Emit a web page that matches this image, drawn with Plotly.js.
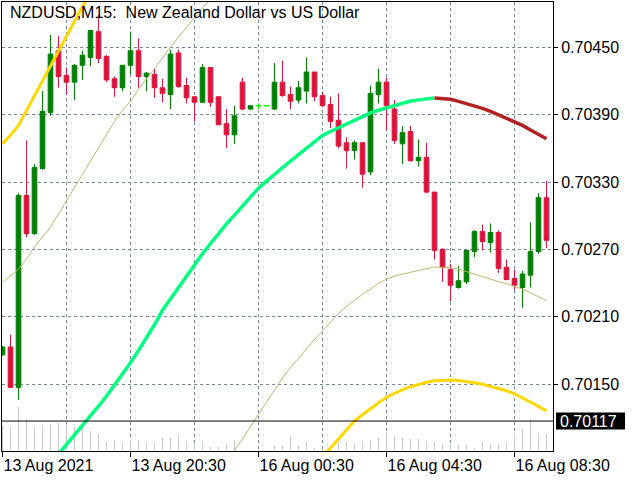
<!DOCTYPE html>
<html><head><meta charset="utf-8">
<script src="https://cdn.plot.ly/plotly-3.0.1.min.js"></script>
<style>html,body{margin:0;padding:0;background:#fff;}#chart{width:640px;height:480px;}</style>
</head><body><div id="chart"></div>
<script>
// ---- data: NZDUSD M15, one value per bar ----
const openP = [0.70176,0.70183,0.70147,0.70318,0.70284,0.70342,0.70392,0.70447,0.70425,0.70419,
 0.70434,0.70441,0.70464,0.70442,0.70422,0.70414,0.70434,0.70447,0.70424,0.70426,
 0.70414,0.70408,0.70445,0.70416,0.70406,0.70401,0.70432,0.70406,0.70382,0.70372,
 0.70419,0.70395,0.70398,0.70398,0.70395,0.70419,0.70408,0.70403,0.70411,0.70428,
 0.70407,0.70399,0.70385,0.70365,0.70358,0.70365,0.70339,0.70408,0.70419,0.70395,
 0.70364,0.70375,0.70349,0.70352,0.70321,0.70270,0.70252,0.70236,0.70241,0.70268,
 0.70286,0.70276,0.70285,0.70254,0.70244,0.70236,0.70247,0.70268,0.70316];
const highP = [0.70184,0.70194,0.70320,0.70367,0.70346,0.70411,0.70461,0.70460,0.70432,0.70435,
 0.70447,0.70465,0.70479,0.70443,0.70424,0.70434,0.70464,0.70458,0.70428,0.70431,
 0.70422,0.70448,0.70448,0.70423,0.70406,0.70435,0.70432,0.70406,0.70395,0.70398,
 0.70423,0.70398,0.70400,0.70398,0.70436,0.70438,0.70415,0.70420,0.70441,0.70428,
 0.70410,0.70406,0.70409,0.70370,0.70367,0.70365,0.70416,0.70431,0.70423,0.70403,
 0.70380,0.70380,0.70368,0.70365,0.70321,0.70271,0.70257,0.70255,0.70269,0.70287,
 0.70292,0.70293,0.70287,0.70261,0.70252,0.70251,0.70294,0.70320,0.70331];
const lowP = [0.70175,0.70147,0.70136,0.70281,0.70283,0.70341,0.70389,0.70414,0.70408,0.70403,
 0.70421,0.70433,0.70436,0.70419,0.70406,0.70411,0.70426,0.70414,0.70411,0.70405,
 0.70401,0.70395,0.70414,0.70400,0.70384,0.70401,0.70397,0.70381,0.70360,0.70364,
 0.70394,0.70394,0.70395,0.70397,0.70394,0.70406,0.70395,0.70400,0.70400,0.70402,
 0.70397,0.70378,0.70360,0.70342,0.70350,0.70325,0.70336,0.70400,0.70376,0.70364,
 0.70346,0.70348,0.70344,0.70320,0.70261,0.70241,0.70224,0.70235,0.70239,0.70263,
 0.70269,0.70267,0.70249,0.70243,0.70234,0.70218,0.70236,0.70266,0.70271];
const closeP = [0.70183,0.70147,0.70318,0.70284,0.70343,0.70393,0.70444,0.70424,0.70419,0.70434,
 0.70443,0.70465,0.70440,0.70421,0.70414,0.70434,0.70447,0.70424,0.70427,0.70414,
 0.70409,0.70444,0.70415,0.70405,0.70401,0.70432,0.70401,0.70381,0.70372,0.70389,
 0.70395,0.70398,0.70398,0.70398,0.70419,0.70407,0.70402,0.70414,0.70428,0.70406,
 0.70398,0.70384,0.70362,0.70358,0.70365,0.70337,0.70409,0.70419,0.70398,0.70367,
 0.70374,0.70349,0.70352,0.70321,0.70269,0.70254,0.70238,0.70242,0.70269,0.70286,
 0.70277,0.70285,0.70253,0.70243,0.70238,0.70248,0.70268,0.70316,0.70278];
const tickVolume = [250,240,440,320,240,260,270,280,270,240,
 230,200,170,90,110,80,110,110,80,80,
 130,130,160,100,80,100,40,40,70,100,
 10,10,10,10,50,50,150,50,90,30,
 20,20,90,90,70,100,110,130,190,150,
 130,120,120,100,90,70,70,60,60,30,
 90,70,70,80,180,220,320,180,170];
// indicator lines (null = no value drawn)
const maRising = [null,null,null,null,null,null,null,0.700876,0.700960,0.701042,
 0.701126,0.701213,0.701302,0.701392,0.701488,0.701588,0.701689,0.701800,0.701911,0.702028,
 0.702158,0.702261,0.702364,0.702467,0.702568,0.702661,0.702751,0.702842,0.702927,0.703005,
 0.703084,0.703163,0.703245,0.703308,0.703371,0.703430,0.703487,0.703544,0.703602,0.703659,
 0.703715,0.703750,0.703783,0.703816,0.703849,0.703881,0.703916,0.703939,0.703961,0.703983,
 0.704006,0.704022,0.704032,0.704041,0.704049,null,null,null,null,null,
 null,null,null,null,null,null,null,null,null];
const maFalling = [null,null,null,null,null,null,null,null,null,null,
 null,null,null,null,null,null,null,null,null,null,
 null,null,null,null,null,null,null,null,null,null,
 null,null,null,null,null,null,null,null,null,null,
 null,null,null,null,null,null,null,null,null,null,
 null,null,null,null,0.704049,0.704046,0.704037,0.704019,0.703999,0.703981,
 0.703956,0.703930,0.703898,0.703867,0.703840,0.703804,0.703764,0.703724,0.703685];
const goldLine = [0.703642,0.703716,0.703804,0.703937,0.704069,0.704202,0.704334,0.704467,0.704599,0.704731,
 0.704864,0.704995,null,null,null,null,null,null,null,null,
 null,null,null,null,null,null,null,null,null,null,
 null,null,null,null,null,null,null,null,null,null,
 0.700849,0.700931,0.701012,0.701094,0.701171,0.701226,0.701281,0.701333,0.701382,0.701418,
 0.701449,0.701476,0.701498,0.701516,0.701528,0.701534,0.701536,0.701531,0.701523,0.701512,
 0.701498,0.701480,0.701462,0.701440,0.701413,0.701377,0.701342,0.701301,0.701261];
const khakiLine = [0.702403,0.702461,0.702524,0.702613,0.702721,0.702810,0.702900,0.703016,0.703133,0.703249,
 0.703374,0.703491,0.703598,0.703715,0.703840,0.703939,0.704019,0.704127,0.704216,0.704315,
 0.704404,0.704503,0.704592,0.704682,0.704771,0.704852,0.704924,null,0.700795,0.700903,
 0.701010,0.701118,0.701225,0.701333,0.701445,0.701556,0.701646,0.701731,0.701816,0.701897,
 0.701973,0.702054,0.702130,0.702192,0.702250,0.702300,0.702345,0.702398,0.702434,0.702461,
 0.702479,0.702497,0.702515,0.702528,0.702542,0.702542,0.702537,0.702524,0.702501,0.702479,
 0.702456,0.702434,0.702412,0.702394,0.702371,0.702345,0.702313,0.702277,0.702242];
const tickBars = [0,16,32,48,64];
const tickLabels = ['13 Aug 2021','13 Aug 20:30','16 Aug 00:30','16 Aug 04:30','16 Aug 08:30'];
const gridBars = [8,24,40,56];
const priceTicks = [0.70150,0.70210,0.70270,0.70330,0.70390,0.70450];
const levelPrice = 0.70117;
const titleText = 'NZDUSD,M15:\u00a0\u00a0New Zealand Dollar vs US Dollar';

// ---- build ----
const idx = openP.map((_, i) => i);
const doji = idx.map(i => openP[i] === closeP[i]);
const pick = (arr, cond) => idx.map(i => cond(i) ? arr[i] : null);
const GRID = '#778899';
const traces = [
 {type:'bar', x:idx, y:tickVolume, width:0.13, marker:{color:'#c8c8c8', line:{width:0}},
  xaxis:'x', yaxis:'y', hoverinfo:'skip'},
 {type:'candlestick', x:idx, yaxis:'y2',
  open:pick(openP,i=>!doji[i]), high:pick(highP,i=>!doji[i]), low:pick(lowP,i=>!doji[i]), close:pick(closeP,i=>!doji[i]),
  increasing:{line:{color:'#008000',width:1}, fillcolor:'#008000'},
  decreasing:{line:{color:'#DC143C',width:1}, fillcolor:'#DC143C'},
  whiskerwidth:0, hoverinfo:'skip'},
 {type:'candlestick', x:idx, yaxis:'y2',
  open:pick(openP,i=>doji[i]), high:pick(highP,i=>doji[i]), low:pick(lowP,i=>doji[i]), close:pick(closeP,i=>doji[i]),
  increasing:{line:{color:'#00FF00',width:1}, fillcolor:'#00FF00'},
  decreasing:{line:{color:'#00FF00',width:1}, fillcolor:'#00FF00'},
  whiskerwidth:0, hoverinfo:'skip'},
 {type:'scatter', mode:'lines', x:idx, y:khakiLine, yaxis:'y2', line:{color:'#BDB76B', width:1}, connectgaps:false, hoverinfo:'skip'},
 {type:'scatter', mode:'lines', x:idx, y:goldLine, yaxis:'y2', line:{color:'#FFD700', width:3}, connectgaps:false, hoverinfo:'skip'},
 {type:'scatter', mode:'lines', x:idx, y:maRising, yaxis:'y2', line:{color:'#00FF7F', width:3.5}, connectgaps:false, hoverinfo:'skip'},
 {type:'scatter', mode:'lines', x:idx, y:maFalling, yaxis:'y2', line:{color:'#B22222', width:3.5}, connectgaps:false, hoverinfo:'skip'}
];
const axisFont = {family:'Liberation Sans, Arial, sans-serif', size:16, color:'#000'};
const layout = {
 width:640, height:480, margin:{l:2, r:87, t:2, b:29, pad:0},
 paper_bgcolor:'#fff', plot_bgcolor:'#fff', showlegend:false,
 boxgap:0.42, boxgroupgap:0, dragmode:false,
 font:axisFont,
 xaxis:{range:[-0.0625, 68.8125], tickmode:'array', tickvals:tickBars, ticktext:tickLabels,
  ticks:'outside', ticklen:5, tickwidth:1, tickcolor:'#000', ticklabelposition:'outside right',
  tickfont:axisFont, showgrid:true, gridcolor:GRID, gridwidth:1, griddash:'3px,3px',
  showline:true, linecolor:'#000', linewidth:1, mirror:true, zeroline:false,
  rangeslider:{visible:false}, fixedrange:true,
  minor:{tickmode:'array', tickvals:gridBars, showgrid:true, gridcolor:GRID, gridwidth:1, griddash:'3px,3px', ticks:''}},
 yaxis:{range:[0, 4490], visible:false, fixedrange:true, showgrid:false, zeroline:false},
 yaxis2:{overlaying:'y', side:'right', range:[0.700903, 0.704904], tickmode:'array', tickvals:priceTicks,
  tickformat:'.5f', ticks:'outside', ticklen:4, tickwidth:1, tickcolor:'#000', tickfont:axisFont,
  showgrid:true, gridcolor:GRID, gridwidth:1, griddash:'3px,3px',
  showline:true, linecolor:'#000', linewidth:1, mirror:true, zeroline:false, fixedrange:true},
 shapes:[
  {type:'line', xref:'paper', x0:0, x1:1, yref:'y2', y0:levelPrice, y1:levelPrice, line:{color:'#000', width:1}},
  {type:'rect', xref:'paper', xsizemode:'pixel', xanchor:1, x0:3, x1:72,
   yref:'y2', ysizemode:'pixel', yanchor:levelPrice, y0:-8.5, y1:8.5, fillcolor:'#000', line:{width:0}}
 ],
 annotations:[
  {xref:'paper', yref:'paper', x:0, y:1, xanchor:'left', yanchor:'top', xshift:6, yshift:0,
   text:titleText, showarrow:false, font:{family:'Liberation Sans, Arial, sans-serif', size:16, color:'#000'}},
  {xref:'paper', yref:'y2', x:1, y:levelPrice, xanchor:'left', yanchor:'middle', xshift:5,
   text:levelPrice.toFixed(5), showarrow:false, font:{family:'Liberation Sans, Arial, sans-serif', size:16, color:'#fff'}}
 ]
};
Plotly.newPlot('chart', traces, layout, {staticPlot:true, displayModeBar:false});
</script>
</body></html>
